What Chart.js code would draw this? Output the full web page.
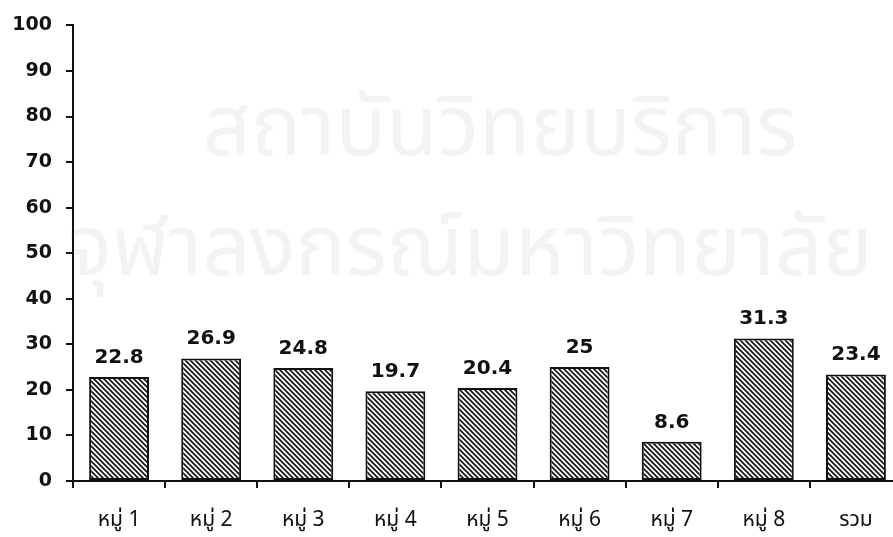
<!DOCTYPE html>
<html>
<head>
<meta charset="utf-8">
<script src="https://cdn.jsdelivr.net/npm/chart.js@4/dist/chart.umd.min.js"></script>
<style>
  html, body { margin: 0; padding: 0; background: #fff; overflow: hidden; }
  #wrap { width: 902px; height: 537px; }
</style>
</head>
<body>
<div id="wrap"><canvas id="chart" width="902" height="537"></canvas></div>
<script>
const categories = ["หมู่ 1", "หมู่ 2", "หมู่ 3", "หมู่ 4", "หมู่ 5", "หมู่ 6", "หมู่ 7", "หมู่ 8", "รวม"];
const values = [22.8, 26.9, 24.8, 19.7, 20.4, 25, 8.6, 31.3, 23.4];
const valueLabels = ["22.8", "26.9", "24.8", "19.7", "20.4", "25", "8.6", "31.3", "23.4"];

const NUM_FONT = "'DejaVu Sans', Verdana, sans-serif";
const THAI_FONT = "'Noto Sans Thai', 'Loma', 'Garuda', 'Noto Sans', 'DejaVu Sans', sans-serif";

// diagonal hatch, lines running top-left to bottom-right
function hatch() {
  const s = 5;
  const c = document.createElement("canvas");
  c.width = s; c.height = s;
  const g = c.getContext("2d");
  g.fillStyle = "#fff";
  g.fillRect(0, 0, s, s);
  g.strokeStyle = "#1a1a1a";
  g.lineWidth = 1.8;
  g.beginPath();
  g.moveTo(-1, -1); g.lineTo(s + 1, s + 1);
  g.moveTo(-1, s - 1); g.lineTo(1, s + 1);
  g.moveTo(s - 1, -1); g.lineTo(s + 1, 1);
  g.stroke();
  return g.createPattern(c, "repeat");
}

// faint scanned watermark behind the chart
const watermark = {
  id: "watermark",
  beforeDraw(chart) {
    const ctx = chart.ctx;
    ctx.save();
    ctx.fillStyle = "#f3f3f3";
    ctx.textAlign = "center";
    ctx.textBaseline = "alphabetic";
    ctx.font = "84px " + THAI_FONT;
    ctx.fillText("สถาบันวิทยบริการ", 500, 155);
    ctx.fillText("จุฬาลงกรณ์มหาวิทยาลัย", 470, 275);
    ctx.restore();
  }
};

const barLabels = {
  id: "barLabels",
  afterDatasetsDraw(chart) {
    const ctx = chart.ctx;
    const meta = chart.getDatasetMeta(0);
    ctx.save();
    ctx.fillStyle = "#111";
    ctx.font = "bold 20px " + NUM_FONT;
    ctx.textAlign = "center";
    ctx.textBaseline = "alphabetic";
    meta.data.forEach((bar, i) => {
      ctx.fillText(valueLabels[i], bar.x, bar.y - 14);
    });
    ctx.restore();
  }
};

new Chart(document.getElementById("chart"), {
  type: "bar",
  data: {
    labels: categories,
    datasets: [{
      data: values,
      backgroundColor: hatch(),
      borderColor: "#111",
      borderWidth: 2,
      borderSkipped: false,
      categoryPercentage: 1,
      barPercentage: 0.65
    }]
  },
  options: {
    responsive: false,
    animation: false,
    layout: { padding: { top: 22, left: 0, right: 0, bottom: 0 } },
    plugins: {
      legend: { display: false },
      tooltip: { enabled: false }
    },
    scales: {
      x: {
        offset: true,
        grid: { display: true, drawOnChartArea: false, drawTicks: true, tickLength: 7, color: "#111", lineWidth: 2, offset: true },
        border: { display: true, color: "#111", width: 2 },
        ticks: { color: "#111", font: { family: THAI_FONT, size: 21 }, padding: 21, maxRotation: 0 },
        afterFit: s => { s.height = 56; }
      },
      y: {
        min: 0,
        max: 100,
        ticks: { stepSize: 10, color: "#111", font: { family: NUM_FONT, size: 19, weight: "bold" }, padding: 14 },
        grid: { display: true, drawOnChartArea: false, drawTicks: true, tickLength: 7, color: "#111", lineWidth: 2 },
        border: { display: true, color: "#111", width: 2 },
        afterFit: s => { s.width = 73; }
      }
    }
  },
  plugins: [watermark, barLabels]
});
</script>
</body>
</html>
